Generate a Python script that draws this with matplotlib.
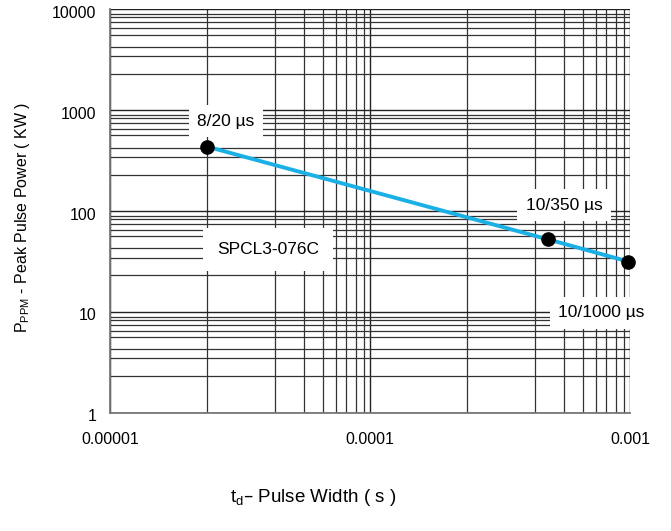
import numpy as np
import matplotlib
matplotlib.use("Agg")
import matplotlib.pyplot as plt
from matplotlib.ticker import FixedLocator, FixedFormatter, NullFormatter
from matplotlib.transforms import ScaledTranslation

plt.rcParams['font.family'] = ['Liberation Sans', 'DejaVu Sans']

# valeurs
pulse_labels = ["8/20 µs", "10/350 µs", "10/1000 µs"]
pulse_width = [2.36e-5, 4.85e-4, 9.85e-4]
peak_power = [433, 52, 31.4]
device_name = "SPCL3-076C"

x_ticks = [1e-5, 1e-4, 1e-3]
x_tick_labels = ["0.00001", "0.0001", "0.001"]
y_ticks = [1, 10, 100, 1000, 10000]
y_tick_labels = ["1", "10", "100", "1000", "10000"]

# positions des lignes de grille secondaires (comme sur l'original)
x_minor_mult = [2.355, 4.30, 5.55, 6.61, 7.38, 8.11, 8.85, 9.44]
y_minor_mult = [2.29, 3.44, 4.24, 5.58, 6.46, 7.36, 8.26, 8.91]

fig = plt.figure(figsize=(6.71, 5.31), dpi=100)
ax = fig.add_axes([0.164, 0.223, 0.775, 0.760])
ax.set_xscale("log")
ax.set_yscale("log")
ax.set_xlim(1e-5, 1e-3)
ax.set_ylim(1, 10000)

x_minor = [m * d for d in [1e-5, 1e-4] for m in x_minor_mult]
y_minor = [m * d for d in [1, 10, 100, 1000] for m in y_minor_mult]

ax.xaxis.set_major_locator(FixedLocator(x_ticks))
ax.xaxis.set_major_formatter(FixedFormatter(x_tick_labels))
ax.xaxis.set_minor_locator(FixedLocator(x_minor))
ax.xaxis.set_minor_formatter(NullFormatter())
ax.yaxis.set_major_locator(FixedLocator(y_ticks))
ax.yaxis.set_major_formatter(FixedFormatter(y_tick_labels))
ax.yaxis.set_minor_locator(FixedLocator(y_minor))
ax.yaxis.set_minor_formatter(NullFormatter())

ax.tick_params(which="both", length=0, labelsize=11.5)
ax.tick_params(axis="x", pad=14)
ax.tick_params(axis="y", pad=10)
for lab in ax.get_yticklabels():
    lab.set_transform(lab.get_transform() + ScaledTranslation(0, -2 / 72, fig.dpi_scale_trans))

ax.grid(which="major", color="#222222", lw=1.0)
ax.grid(which="minor", color="#333333", lw=0.9)
ax.set_axisbelow(True)
for side in ["top", "right"]:
    ax.spines[side].set_visible(False)
for side in ["left", "bottom"]:
    ax.spines[side].set_color("#777777")
    ax.spines[side].set_linewidth(1.3)

ax.plot(pulse_width, peak_power, color="#1ab0e6", lw=2.8, zorder=3, solid_capstyle="butt")
ax.plot(pulse_width, peak_power, "o", color="black", ms=9.5, zorder=4, clip_on=False)

box = dict(boxstyle="square,pad=0.5", fc="white", ec="none")
label_pos = [(0.223, 0.722), (0.873, 0.514), (0.945, 0.247)]
for lab, (tx, ty) in zip(pulse_labels, label_pos):
    ax.text(tx, ty, lab, transform=ax.transAxes, ha="center", va="center",
            fontsize=12.5, bbox=box, zorder=5)
ax.text(0.304, 0.405, device_name, transform=ax.transAxes, ha="center", va="center",
        fontsize=12.5, bbox=dict(boxstyle="square,pad=0.8", fc="white", ec="none"), zorder=5)

fig.text(0.466, 0.064, r"$\mathregular{t_d}$– Pulse Width ( s )", ha="center", va="center", fontsize=13.5)
fig.text(0.033, 0.59, r"$\mathregular{P_{PPM}}$ - Peak Pulse Power ( KW )", ha="center", va="center",
         rotation=90, fontsize=11.5)

fig.savefig("out.png", dpi=100)
